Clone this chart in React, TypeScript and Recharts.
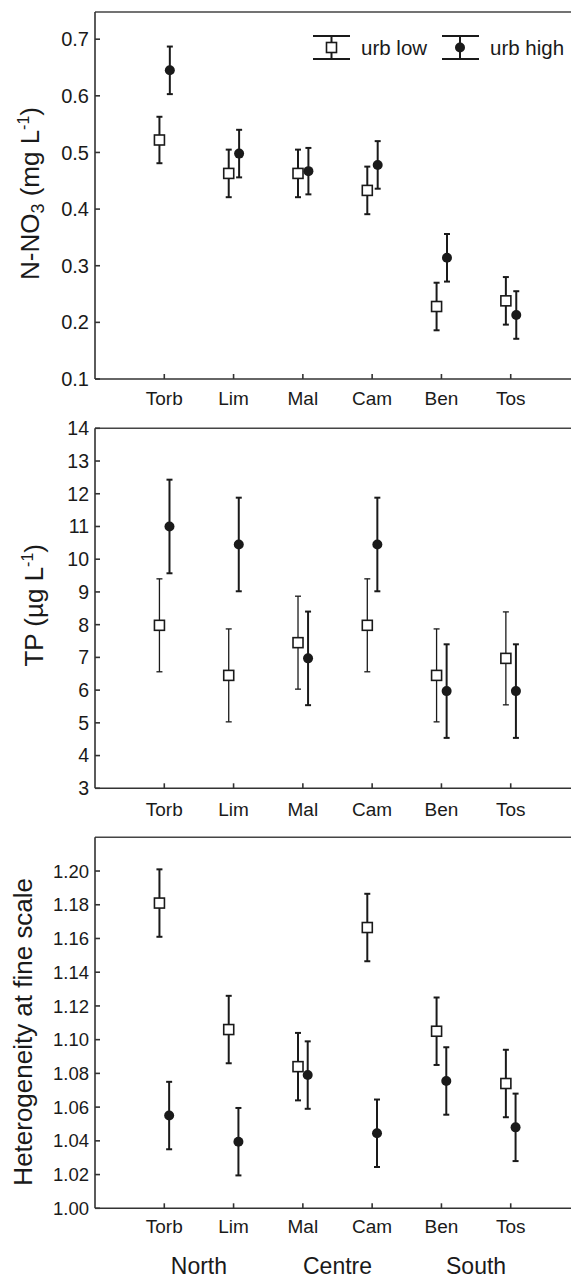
import React from "react";
import {
  ErrorBar,
  Legend,
  ReferenceLine,
  Scatter,
  ScatterChart,
  XAxis,
  YAxis,
} from "recharts";

const FONT = "'Liberation Sans', Arial, sans-serif";
const INK = "#1a1a1a";
const AXIS = "#333";

const sites = ["Torb", "Lim", "Mal", "Cam", "Ben", "Tos"];
const regions = ["North", "Centre", "South"];
const siteTicks = [1, 2, 3, 4, 5, 6];
const regionTicks = [1.5, 3.5, 5.5];

// N-NO3 (mg/L), mean and half-width of bar
const no3Low = [0.522, 0.463, 0.463, 0.433, 0.228, 0.238];
const no3LowErr = [0.041, 0.042, 0.042, 0.042, 0.042, 0.042];
const no3High = [0.645, 0.498, 0.467, 0.478, 0.314, 0.213];
const no3HighErr = [0.042, 0.042, 0.041, 0.042, 0.042, 0.042];
const no3Ticks = [0.1, 0.2, 0.3, 0.4, 0.5, 0.6, 0.7];

// TP (ug/L)
const tpLow = [7.98, 6.45, 7.45, 7.98, 6.45, 6.97];
const tpLowErr = [1.42, 1.42, 1.42, 1.42, 1.42, 1.42];
const tpHigh = [11.0, 10.45, 6.97, 10.45, 5.97, 5.97];
const tpHighErr = [1.43, 1.43, 1.43, 1.43, 1.43, 1.43];
const tpTicks = [3, 4, 5, 6, 7, 8, 9, 10, 11, 12, 13, 14];

// heterogeneity at fine scale
const hetLow = [1.181, 1.106, 1.084, 1.1665, 1.105, 1.074];
const hetLowErr = [0.02, 0.02, 0.02, 0.02, 0.02, 0.02];
const hetHigh = [1.055, 1.0395, 1.079, 1.0445, 1.0755, 1.048];
const hetHighErr = [0.02, 0.02, 0.02, 0.02, 0.02, 0.02];
const hetTicks = [1.0, 1.02, 1.04, 1.06, 1.08, 1.1, 1.12, 1.14, 1.16, 1.18, 1.2];

const toPoints = (means: number[], errs: number[], shift: number) =>
  means.map((y, i) => ({ x: i + 1 + shift, y, err: errs[i] }));

const Square = (p: any) => (
  <rect x={p.cx - 5} y={p.cy - 5} width={10} height={10} fill="#fff" stroke={INK} strokeWidth={1.6} />
);
const Dot = (p: any) => <circle cx={p.cx} cy={p.cy} r={5} fill={INK} />;

function LegendBox() {
  return (
    <svg width={271} height={50} style={{ display: "block" }}>
      <g stroke={INK} strokeWidth={2}>
        <line x1={13} y1={16} x2={50} y2={16} />
        <line x1={13} y1={39} x2={50} y2={39} />
        <line x1={31.5} y1={16} x2={31.5} y2={39} />
        <line x1={142} y1={16} x2={179} y2={16} />
        <line x1={142} y1={39} x2={179} y2={39} />
        <line x1={160} y1={16} x2={160} y2={39} />
      </g>
      <rect x={26.5} y={22.5} width={10} height={10} fill="#fff" stroke={INK} strokeWidth={1.6} />
      <circle cx={160} cy={27.5} r={5} fill={INK} />
      <text x={61} y={35} fontFamily={FONT} fontSize={20.5} fill={INK}>urb low</text>
      <text x={190} y={35} fontFamily={FONT} fontSize={20.5} fill={INK}>urb high</text>
    </svg>
  );
}

type PanelProps = {
  top: number;
  marginTop: number;
  plotHeight: number;
  domain: [number, number];
  ticks: number[];
  digits: number;
  tickFont: number;
  catMargin: number;
  low: { x: number; y: number; err: number }[];
  high: { x: number; y: number; err: number }[];
  lowStroke: number;
  title: React.ReactNode;
  titleX: number;
  titleDy: number;
  legend?: boolean;
  regionAxis?: boolean;
};

function Panel(props: PanelProps) {
  const extra = props.regionAxis ? 33 : 0;
  const height = props.marginTop + props.plotHeight + 40 + extra;
  const renderTitle = (lp: any) => {
    const vb = lp.viewBox || { y: props.marginTop, height: props.plotHeight };
    const cy = vb.y + vb.height / 2 + props.titleDy;
    return (
      <text
        x={props.titleX}
        y={cy}
        transform={`rotate(-90, ${props.titleX}, ${cy})`}
        textAnchor="middle"
        fontFamily={FONT}
        fontSize={26}
        fill={INK}
      >
        {props.title}
      </text>
    );
  };

  return (
    <div style={{ position: "absolute", left: 0, top: props.top }}>
      <ScatterChart
        width={571}
        height={height}
        margin={{ top: props.marginTop, right: 0, bottom: 0, left: 0 }}
      >
        <XAxis
          type="number"
          dataKey="x"
          domain={[0, 6.87]}
          allowDataOverflow
          ticks={siteTicks}
          interval={0}
          tickFormatter={(v) => sites[Math.round(v) - 1] ?? ""}
          height={40}
          stroke={AXIS}
          strokeWidth={1.6}
          tickSize={-5}
          tickMargin={props.catMargin}
          tick={{ fill: INK, fontSize: 19, fontFamily: FONT }}
        />
        {props.regionAxis && (
          <XAxis
            xAxisId="region"
            type="number"
            dataKey="x"
            domain={[0, 6.87]}
            allowDataOverflow
            ticks={regionTicks}
            interval={0}
            tickFormatter={(v) => regions[Math.round((v - 1.5) / 2)] ?? ""}
            height={33}
            axisLine={false}
            tickLine={false}
            tickSize={0}
            tickMargin={9}
            tick={{ fill: INK, fontSize: 23, fontFamily: FONT }}
          />
        )}
        <YAxis
          type="number"
          dataKey="y"
          width={95}
          domain={props.domain}
          allowDataOverflow
          ticks={props.ticks}
          interval={0}
          tickFormatter={(v) => Number(v).toFixed(props.digits)}
          stroke={AXIS}
          strokeWidth={1.6}
          tickSize={-5}
          tickMargin={11}
          tick={{ fill: INK, fontSize: props.tickFont, fontFamily: FONT }}
          label={renderTitle}
        />
        <ReferenceLine y={props.domain[1]} stroke="#444" strokeWidth={1.4} />
        <Scatter data={props.low} shape={Square} isAnimationActive={false}>
          <ErrorBar
            dataKey="err"
            direction="y"
            width={3}
            stroke={INK}
            strokeWidth={props.lowStroke}
            isAnimationActive={false}
          />
        </Scatter>
        <Scatter data={props.high} shape={Dot} isAnimationActive={false}>
          <ErrorBar
            dataKey="err"
            direction="y"
            width={3}
            stroke={INK}
            strokeWidth={2}
            isAnimationActive={false}
          />
        </Scatter>
        {props.legend && (
          <Legend
            layout="vertical"
            align="center"
            verticalAlign="middle"
            content={LegendBox}
            wrapperStyle={{ left: 300, top: 20, width: 271, height: 50 }}
          />
        )}
      </ScatterChart>
    </div>
  );
}

export default function App() {
  return (
    <div
      style={{
        position: "absolute",
        left: 0,
        top: 0,
        width: 571,
        height: 1281,
        overflow: "hidden",
        background: "#fff",
        fontFamily: FONT,
      }}
    >
      <Panel
        top={0}
        marginTop={12}
        plotHeight={367}
        domain={[0.1, 0.748]}
        ticks={no3Ticks}
        digits={1}
        tickFont={20}
        catMargin={17.7}
        low={toPoints(no3Low, no3LowErr, -0.07)}
        high={toPoints(no3High, no3HighErr, 0.08)}
        lowStroke={2}
        titleX={39}
        titleDy={-2}
        legend
        title={
          <>
            N-NO
            <tspan dy={5} fontSize={18}>3</tspan>
            <tspan dy={-5}> (mg L</tspan>
            <tspan dy={-10} fontSize={16}>-1</tspan>
            <tspan dy={10}>)</tspan>
          </>
        }
      />
      <Panel
        top={400}
        marginTop={28.3}
        plotHeight={360}
        domain={[3, 14]}
        ticks={tpTicks}
        digits={0}
        tickFont={19.5}
        catMargin={19.7}
        low={toPoints(tpLow, tpLowErr, -0.07)}
        high={toPoints(tpHigh, tpHighErr, 0.075)}
        lowStroke={1.3}
        titleX={43}
        titleDy={-3}
        title={
          <>
            TP (µg L
            <tspan dy={-10} fontSize={16}>-1</tspan>
            <tspan dy={10}>)</tspan>
          </>
        }
      />
      <Panel
        top={820}
        marginTop={17.3}
        plotHeight={371}
        domain={[1.0, 1.22]}
        ticks={hetTicks}
        digits={2}
        tickFont={18.5}
        catMargin={16.7}
        low={toPoints(hetLow, hetLowErr, -0.07)}
        high={toPoints(hetHigh, hetHighErr, 0.07)}
        lowStroke={2}
        titleX={31.5}
        titleDy={9}
        regionAxis
        title="Heterogeneity at fine scale"
      />
    </div>
  );
}
